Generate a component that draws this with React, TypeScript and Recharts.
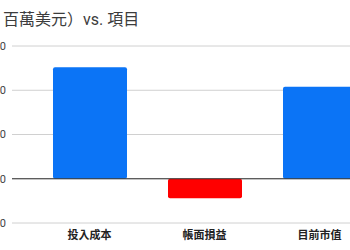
import React from 'react';
import { BarChart, Bar, XAxis, YAxis, CartesianGrid, ReferenceLine, Cell } from 'recharts';

const categories = ['投入成本', '帳面損益', '目前市值'];
const values = [252, -44, 208];
const barColors = ['#0b74f6', '#ff0000', '#0b74f6'];
const yTicks = [-100, 0, 100, 200, 300];
const titlePrefix = '金額（';
const titleMain = '百萬美元）vs. 項目';

const data = categories.map((name, i) => ({ name, value: values[i] }));

const FONT = 'Roboto, "Noto Sans CJK TC", "Noto Sans", sans-serif';

export default function App() {
  return (
    <div style={{ position: 'absolute', left: 0, top: 0, width: 350, height: 250, overflow: 'hidden', background: '#fff', fontFamily: FONT }}>
      <div style={{ position: 'absolute', left: 3, top: 10, fontSize: 16, lineHeight: '20px', color: '#3c3c3c', whiteSpace: 'nowrap' }}>
        <span style={{ position: 'absolute', right: 'calc(100% + 6px)', top: 0 }}>{titlePrefix}</span>
        {titleMain}
      </div>
      <div style={{ position: 'absolute', left: -40, top: 0 }}>
        <BarChart width={440} height={250} data={data} margin={{ top: 46, right: 3, bottom: 0, left: 0 }}>
          <CartesianGrid vertical={false} stroke="#d0d0d0" />
          <XAxis
            dataKey="name"
            axisLine={false}
            tickLine={false}
            tickSize={0}
            tickMargin={8}
            height={27}
            padding={{ left: 20, right: 20 }}
            interval={0}
            tick={{ fontSize: 11, fill: '#222', fontWeight: 'bold', fontFamily: FONT }}
          />
          <YAxis
            domain={[-100, 300]}
            ticks={yTicks}
            axisLine={false}
            tickLine={false}
            tickSize={0}
            tickMargin={6}
            width={52}
            tick={{ fontSize: 11, fill: '#444', fontFamily: FONT }}
          />
          <ReferenceLine y={0} stroke="#333" strokeWidth={1} />
          <Bar dataKey="value" barSize={74} radius={2} isAnimationActive={false}>
            {data.map((d, i) => (
              <Cell key={d.name} fill={barColors[i]} />
            ))}
          </Bar>
        </BarChart>
      </div>
    </div>
  );
}
